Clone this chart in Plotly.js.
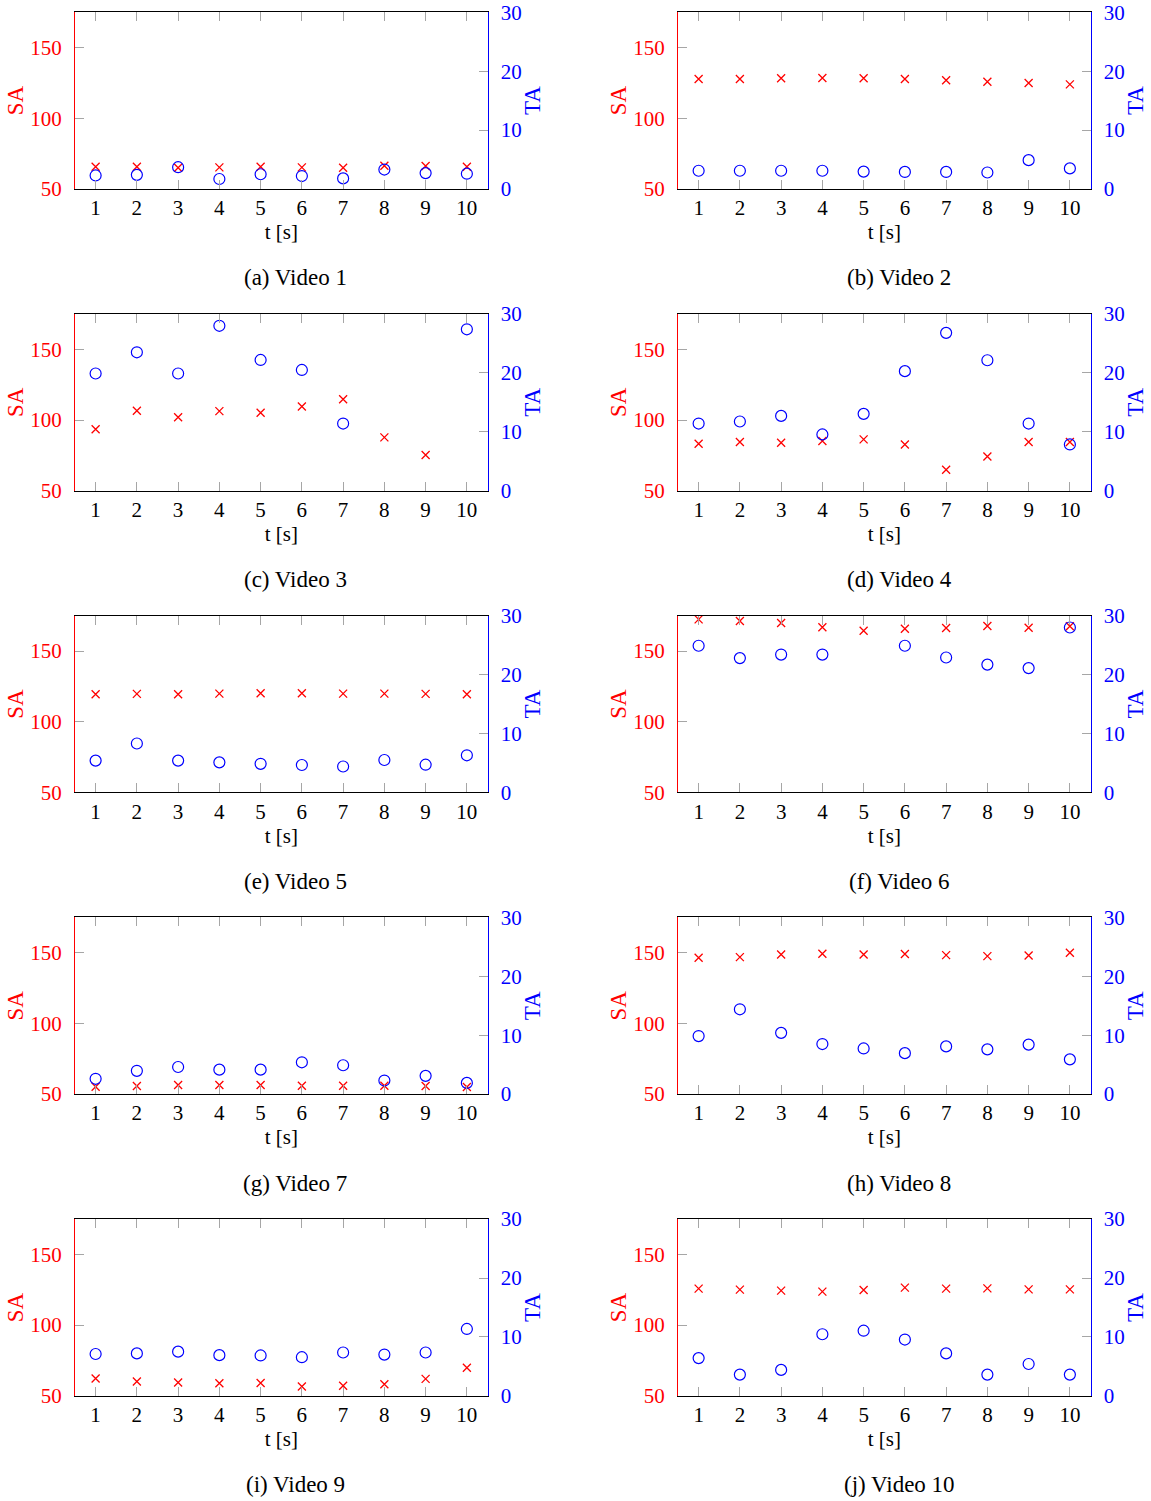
<!DOCTYPE html>
<html>
<head>
<meta charset="utf-8">
<script src="https://cdn.plot.ly/plotly-3.0.1.min.js"></script>
<style>html,body{margin:0;padding:0;background:#fff;}</style>
</head>
<body>
<div id="chart" style="width:1151px;height:1501px;"></div>
<script>
// ---- data ----
const t = [1, 2, 3, 4, 5, 6, 7, 8, 9, 10];

const sa1 = [65.8, 65.8, 65.0, 65.3, 65.8, 65.3, 65.0, 66.5, 66.3, 65.8];
const ta1 = [2.3, 2.4, 3.7, 1.7, 2.5, 2.2, 1.8, 3.3, 2.7, 2.6];

const sa2 = [127.8, 127.8, 128.3, 128.5, 128.3, 127.8, 126.9, 125.9, 125.0, 124.0];
const ta2 = [3.1, 3.1, 3.1, 3.1, 2.95, 2.9, 2.9, 2.8, 4.9, 3.5];

const sa3 = [93.5, 106.5, 102.0, 106.3, 105.1, 109.6, 114.7, 87.7, 75.2, null];
const ta3 = [19.9, 23.5, 19.9, 28.0, 22.2, 20.5, 11.4, null, null, 27.4];

const sa4 = [83.2, 84.4, 83.9, 85.1, 86.3, 82.7, 64.8, 74.2, 84.4, 84.4];
const ta4 = [11.4, 11.75, 12.7, 9.55, 13.05, 20.3, 26.8, 22.15, 11.4, 7.85];

const sa5 = [119.4, 119.7, 119.4, 119.9, 120.2, 120.2, 119.9, 119.9, 119.7, 119.4];
const ta5 = [5.4, 8.3, 5.4, 5.1, 4.85, 4.65, 4.4, 5.5, 4.7, 6.3];

const sa6 = [172.4, 171.2, 169.8, 166.8, 164.4, 165.8, 166.3, 167.7, 166.5, 167.5];
const ta6 = [24.9, 22.8, 23.4, 23.4, null, 24.9, 22.9, 21.7, 21.1, 28.0];

const sa7 = [55.2, 55.7, 56.4, 56.4, 56.4, 55.9, 55.9, 55.9, 55.7, 55.0];
const ta7 = [2.6, 3.95, 4.6, 4.15, 4.15, 5.4, 4.9, 2.3, 3.1, 1.9];

const sa8 = [146.5, 146.9, 148.8, 149.3, 148.8, 149.1, 148.3, 147.6, 148.1, 150.0];
const ta8 = [9.85, 14.4, 10.4, 8.5, 7.75, 6.95, 8.1, 7.6, 8.4, 5.9];

const sa9 = [62.2, 60.1, 59.4, 58.9, 59.1, 56.6, 57.1, 58.2, 62.0, 69.8];
const ta9 = [7.1, 7.2, 7.5, 6.9, 6.85, 6.55, 7.35, 7.0, 7.35, 11.35];

const sa10 = [125.8, 125.1, 124.4, 123.7, 124.9, 126.5, 125.8, 126.0, 125.3, 125.3];
const ta10 = [6.4, 3.6, 4.4, 10.45, 11.05, 9.55, 7.2, 3.6, 5.4, 3.6];

const saSeries = [sa1, sa2, sa3, sa4, sa5, sa6, sa7, sa8, sa9, sa10];
const taSeries = [ta1, ta2, ta3, ta4, ta5, ta6, ta7, ta8, ta9, ta10];
const captions = ['(a) Video 1', '(b) Video 2', '(c) Video 3', '(d) Video 4', '(e) Video 5',
                  '(f) Video 6', '(g) Video 7', '(h) Video 8', '(i) Video 9', '(j) Video 10'];
const saTicks = [50, 100, 150];
const taTicks = [0, 10, 20, 30];
const xTitle = 't [s]';
const saTitle = 'SA';
const taTitle = 'TA';

// ---- layout ----
const W = 1151, H = 1501;
const FONT = '"Liberation Serif", "Times New Roman", serif';
const RED = '#ff0000', BLUE = '#0000ff', TICKC = '#a6a6a6';
const colX = [[75, 487.5], [678, 1090.5]];
const captionX = [295, 899];
const rowTop0 = 12.3, rowStep = 301.7, plotH = 176.7;

const data = [];
const layout = {
  width: W, height: H,
  margin: {l: 0, r: 0, t: 0, b: 0},
  paper_bgcolor: '#fff', plot_bgcolor: 'rgba(0,0,0,0)',
  showlegend: false,
  font: {family: FONT, size: 21, color: '#000'},
  annotations: []
};

for (let i = 0; i < 10; i++) {
  const col = i % 2, row = Math.floor(i / 2);
  const top = rowTop0 + row * rowStep, bottom = top + plotH;
  const xd = [colX[col][0] / W, colX[col][1] / W];
  const yd = [1 - bottom / H, 1 - top / H];
  const xi = i + 1, yl = 2 * i + 1, yr = 2 * i + 2;
  const xKey = xi === 1 ? 'xaxis' : 'xaxis' + xi;
  const ylKey = yl === 1 ? 'yaxis' : 'yaxis' + yl;
  const yrKey = 'yaxis' + yr;
  const xRef = xi === 1 ? 'x' : 'x' + xi;
  const ylRef = yl === 1 ? 'y' : 'y' + yl;
  const yrRef = 'y' + yr;

  layout[xKey] = {
    domain: xd, anchor: ylRef, range: [0.5, 10.5],
    tickvals: t, ticktext: t.map(String),
    ticks: 'inside', ticklen: 9, tickwidth: 1, tickcolor: TICKC,
    showline: true, linecolor: '#000', linewidth: 1, mirror: 'ticks',
    showgrid: false, zeroline: false,
    tickfont: {family: FONT, size: 21, color: '#000'},
    ticklabelstandoff: 0,
    title: {text: xTitle, font: {family: FONT, size: 21, color: '#000'}, standoff: 0},
    fixedrange: true
  };
  layout[ylKey] = {
    domain: yd, anchor: xRef, range: [50, 175], side: 'left',
    tickvals: saTicks,
    ticks: 'inside', ticklen: 9, tickwidth: 1, tickcolor: TICKC,
    showline: true, linecolor: RED, linewidth: 1,
    showgrid: false, zeroline: false,
    tickfont: {family: FONT, size: 21, color: RED},
    ticklabelstandoff: 8,
    title: {text: saTitle, font: {family: FONT, size: 23, color: RED}, standoff: 0},
    fixedrange: true
  };
  layout[yrKey] = {
    domain: yd, anchor: xRef, overlaying: ylRef, range: [0, 30], side: 'right',
    tickvals: taTicks,
    ticks: 'inside', ticklen: 9, tickwidth: 1, tickcolor: TICKC,
    showline: true, linecolor: BLUE, linewidth: 1,
    showgrid: false, zeroline: false,
    tickfont: {family: FONT, size: 21, color: BLUE},
    ticklabelstandoff: 8,
    title: {text: taTitle, font: {family: FONT, size: 23, color: BLUE}, standoff: 3},
    fixedrange: true
  };

  data.push({
    type: 'scatter', mode: 'markers', x: t, y: saSeries[i],
    xaxis: xRef, yaxis: ylRef, name: 'SA',
    marker: {symbol: 'x-thin-open', size: 8, color: RED, line: {color: RED, width: 1.3}},
    hoverinfo: 'skip'
  });
  data.push({
    type: 'scatter', mode: 'markers', x: t, y: taSeries[i],
    xaxis: xRef, yaxis: yrRef, name: 'TA',
    marker: {symbol: 'circle-open', size: 11, color: BLUE, line: {color: BLUE, width: 1.2}},
    hoverinfo: 'skip'
  });

  layout.annotations.push({
    text: captions[i], xref: 'paper', yref: 'paper',
    x: captionX[col] / W, y: 1 - (bottom + 89) / H,
    xanchor: 'center', yanchor: 'middle', showarrow: false,
    font: {family: FONT, size: 23, color: '#000'}
  });
}

Plotly.newPlot('chart', data, layout, {displayModeBar: false, staticPlot: true});
</script>
</body>
</html>
